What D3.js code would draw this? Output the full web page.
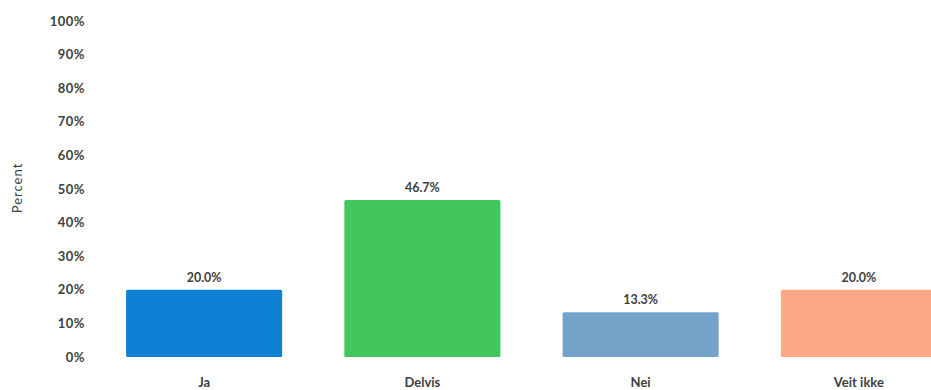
<!DOCTYPE html>
<html>
<head>
<meta charset="utf-8">
<script src="https://cdn.jsdelivr.net/npm/d3@7"></script>
<style>
  html, body { margin: 0; padding: 0; background: #fff; }
  svg { display: block; }
  text { font-family: Lato, "Open Sans", sans-serif; fill: #404040; }
</style>
</head>
<body>
<svg id="chart" width="931" height="390"></svg>
<script>
// Survey answers and their shares (percent)
const categories = ["Ja", "Delvis", "Nei", "Veit ikke"];
const values = [20.0, 46.7, 13.3, 20.0];
const colors = ["#0f80d3", "#42c65e", "#75a2c9", "#fca887"];
const yTicks = [0, 10, 20, 30, 40, 50, 60, 70, 80, 90, 100];

const svg = d3.select("#chart");

const y = d3.scaleLinear().domain([0, 100]).range([357, 21]);
const x = d3.scaleBand()
  .domain(categories)
  .range([95, 968])
  .paddingInner(0.285)
  .paddingOuter(0.1425);

// Y axis: labels only, no line or ticks
const yAxis = svg.append("g")
  .attr("transform", "translate(85,0)")
  .call(d3.axisLeft(y).tickValues(yTicks).tickFormat(d => d + "%").tickSize(0).tickPadding(0));
yAxis.select(".domain").remove();
yAxis.selectAll("text")
  .style("font-family", "Lato, 'Open Sans', sans-serif")
  .style("font-size", "13px")
  .style("font-weight", "bold")
  .style("letter-spacing", "0.5px")
  .attr("fill", "#404040");

svg.append("text")
  .attr("transform", "translate(22,188) rotate(-90)")
  .attr("text-anchor", "middle")
  .style("font-size", "13px")
  .style("letter-spacing", "1px")
  .text("Percent");

// Bars
svg.append("g").selectAll("rect")
  .data(categories)
  .join("rect")
  .attr("x", d => x(d))
  .attr("width", x.bandwidth())
  .attr("y", (d, i) => y(values[i]))
  .attr("height", (d, i) => y(0) - y(values[i]))
  .attr("rx", 1.5)
  .attr("fill", (d, i) => colors[i]);

// Value labels above bars
svg.append("g").selectAll("text")
  .data(categories)
  .join("text")
  .attr("x", d => x(d) + x.bandwidth() / 2)
  .attr("y", (d, i) => y(values[i]) - 8)
  .attr("text-anchor", "middle")
  .style("font-size", "12.5px")
  .style("font-weight", "bold")
  .text((d, i) => values[i].toFixed(1) + "%");

// Category labels under bars
const xAxis = svg.append("g")
  .attr("transform", "translate(0,378)")
  .call(d3.axisBottom(x).tickSize(0).tickPadding(0));
xAxis.select(".domain").remove();
xAxis.selectAll("text")
  .attr("dy", "0.71em")
  .style("font-family", "Lato, 'Open Sans', sans-serif")
  .style("font-size", "13px")
  .style("font-weight", "bold")
  .attr("fill", "#404040");
</script>
</body>
</html>
